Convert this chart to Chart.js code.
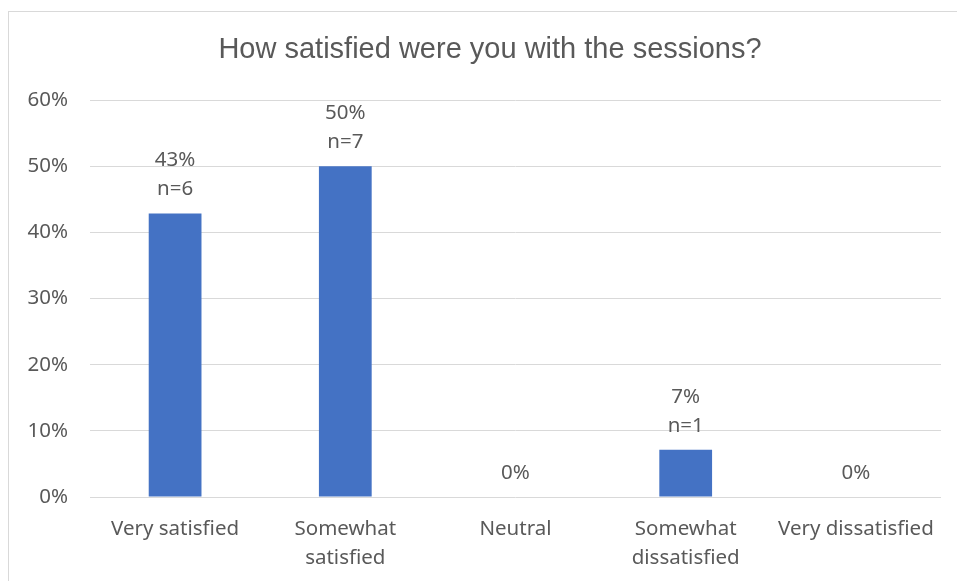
<!DOCTYPE html>
<html>
<head>
<meta charset="utf-8">
<title>How satisfied were you with the sessions?</title>
<script src="https://cdn.jsdelivr.net/npm/chart.js@4/dist/chart.umd.min.js"></script>
<style>
  html, body { margin: 0; padding: 0; background: #fff; overflow: hidden; }
  #frame { position: absolute; left: 8px; top: 11px; width: 970px; height: 600px; border: 1px solid #d9d9d9; }
  #wrap { position: absolute; left: 0; top: 0; width: 957px; height: 581px; }
</style>
</head>
<body>
<div id="frame"></div>
<div id="wrap"><canvas id="chart" width="957" height="581"></canvas></div>
<script>
/* ====== DATA ====== */
const chartTitle = 'How satisfied were you with the sessions?';
const categories = [
    'Very satisfied',
    ['Somewhat', 'satisfied'],
    'Neutral',
    ['Somewhat', 'dissatisfied'],
    'Very dissatisfied'
];
const shares = [0.4286, 0.5, 0, 0.0714, 0];   // fraction of respondents
const counts = [6, 7, 0, 1, 0];               // n per answer
const yTicks = [0, 0.1, 0.2, 0.3, 0.4, 0.5, 0.6];

const textColor = '#595959';
const gridColor = '#d9d9d9';
const barColor = '#4472c4';
const labelFont = '"Noto Sans"';

/* Title drawn on top of the plot, centred on the chart box */
const titlePlugin = {
    id: 'excelTitle',
    afterDraw(chart) {
        const ctx = chart.ctx;
        ctx.save();
        ctx.fillStyle = textColor;
        ctx.font = '29px "Liberation Sans", Arial, sans-serif';
        ctx.textAlign = 'center';
        ctx.textBaseline = 'middle';
        ctx.fillText(chartTitle, 490, 50);
        ctx.restore();
    }
};

/* Value labels above each bar: "43%" and "n=6" */
const barLabels = {
    id: 'barLabels',
    afterDatasetsDraw(chart) {
        const ctx = chart.ctx;
        const meta = chart.getDatasetMeta(0);
        ctx.save();
        ctx.fillStyle = textColor;
        ctx.font = '20.5px ' + labelFont;
        ctx.textAlign = 'center';
        ctx.textBaseline = 'middle';
        meta.data.forEach((bar, i) => {
            const lines = [Math.round(shares[i] * 100) + '%'];
            if (counts[i] > 0) lines.push('n=' + counts[i]);
            let y = bar.y - 24;
            for (let k = lines.length - 1; k >= 0; k--) {
                ctx.fillText(lines[k], bar.x, y);
                y -= 29;
            }
        });
        ctx.restore();
    }
};

const ctx = document.getElementById('chart').getContext('2d');
new Chart(ctx, {
    type: 'bar',
    data: {
        labels: categories,
        datasets: [{
            data: shares,
            backgroundColor: barColor,
            borderWidth: 0,
            categoryPercentage: 1,
            barPercentage: 0.31
        }]
    },
    options: {
        responsive: false,
        animation: false,
        layout: { padding: { top: 100, right: 16, bottom: 0, left: 0 } },
        plugins: {
            legend: { display: false },
            title: { display: false },
            tooltip: { enabled: false }
        },
        scales: {
            x: {
                grid: { display: false, drawTicks: false },
                border: { display: false },
                ticks: {
                    color: textColor,
                    font: { family: 'Noto Sans', size: 20.5, lineHeight: 1.43 },
                    padding: 17,
                    maxRotation: 0,
                    autoSkip: false
                },
                afterFit(scale) { scale.height = 84; }
            },
            y: {
                min: 0,
                max: 0.6,
                grid: { color: gridColor, lineWidth: 1, drawTicks: false },
                border: { display: false },
                afterBuildTicks(scale) { scale.ticks = yTicks.map(v => ({ value: v })); },
                ticks: {
                    color: textColor,
                    font: { family: 'Noto Sans', size: 20.5 },
                    padding: 22,
                    callback: v => Math.round(v * 100) + '%'
                },
                afterFit(scale) { scale.width = 90; }
            }
        }
    },
    plugins: [titlePlugin, barLabels]
});
</script>
</body>
</html>
